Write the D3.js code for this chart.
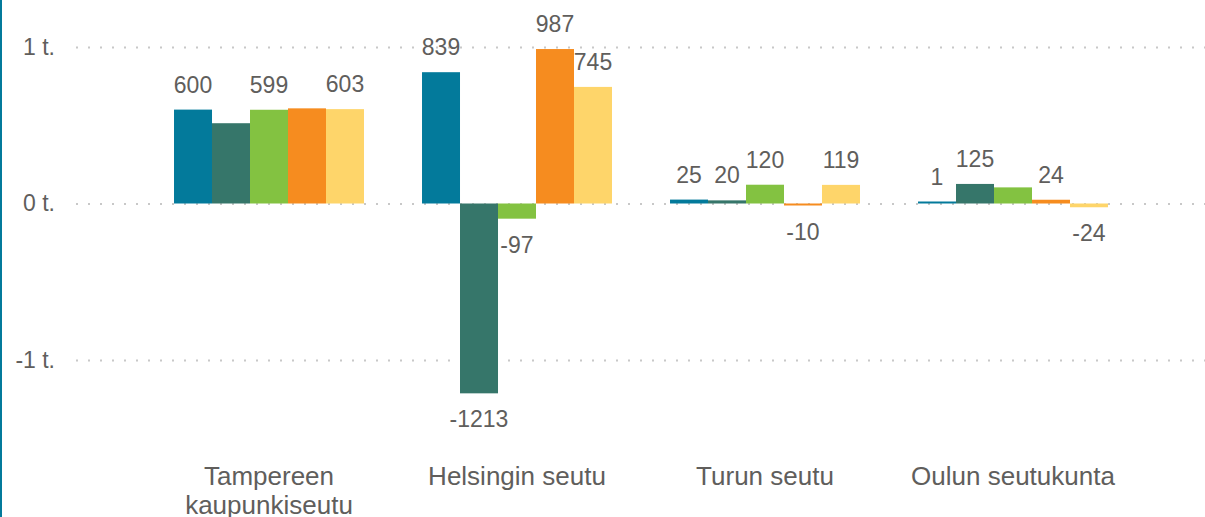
<!DOCTYPE html>
<html>
<head>
<meta charset="utf-8">
<script src="https://cdn.jsdelivr.net/npm/d3@7"></script>
<style>
  html, body { margin: 0; padding: 0; background: #fff; }
  body { width: 1205px; height: 517px; overflow: hidden; }
  svg { display: block; font-family: "Liberation Sans", Arial, sans-serif; }
</style>
</head>
<body>
<script>
const categories = [['Tampereen', 'kaupunkiseutu'], ['Helsingin seutu'], ['Turun seutu'], ['Oulun seutukunta']]
const seriesNames = ['s1', 's2', 's3', 's4', 's5']
const seriesColors = ['#037a9b', '#36766a', '#83c241', '#f68c1f', '#fed56a']

// values per category, one per series
const tampere = [600, 513, 599, 608, 603]
const helsinki = [839, -1213, -97, 987, 745]
const turku = [25, 20, 120, -10, 119]
const oulu = [1, 125, 103, 24, -24]
const values = [tampere, helsinki, turku, oulu]

// which data labels are drawn (others hidden to avoid overlap)
const showLabel = [
  [true, false, true, false, true],
  [true, true, true, true, true],
  [true, true, true, true, true],
  [true, true, false, true, true]
]

const yTicks = [-1000, 0, 1000]
const yTickLabels = ['-1 t.', '0 t.', '1 t.']

const w = 1205
const h = 517
const textColor = '#605e5c'

const svg = d3.select('body')
  .append('svg')
  .attr('width', w)
  .attr('height', h)

// left edge accent
svg.append('rect')
  .attr('x', 0).attr('y', 0)
  .attr('width', 2).attr('height', h)
  .attr('fill', '#037a9b')

const x0 = d3.scaleBand()
  .domain(d3.range(categories.length))
  .range([145, 1137])
  .paddingInner(0.234)
  .paddingOuter(0.117)

const x1 = d3.scaleBand()
  .domain(seriesNames)
  .range([0, x0.bandwidth()])

const y = d3.scaleLinear()
  .domain([-1000, 1000])
  .range([360, 47])

// gridlines
const yAxis = d3.axisLeft(y)
  .tickValues(yTicks)
  .tickSize(-(w - 76))
  .tickPadding(20)
  .tickFormat((d, i) => yTickLabels[i])

const gy = svg.append('g')
  .attr('transform', 'translate(76,0)')
  .call(yAxis)

gy.select('.domain').remove()
gy.selectAll('.tick line')
  .attr('stroke', '#c8c8c8')
  .attr('stroke-width', 2)
  .attr('stroke-dasharray', '2,10')
gy.selectAll('.tick text')
  .attr('fill', textColor)
  .attr('x', -21)
  .style('font-size', '23px')

// bars
const minH = 2
const groups = svg.selectAll('.group')
  .data(values)
  .enter()
  .append('g')
  .attr('class', 'group')
  .attr('transform', (d, i) => 'translate(' + x0(i) + ',0)')

groups.selectAll('rect')
  .data(d => d.map((v, j) => ({ v: v, s: seriesNames[j], j: j })))
  .enter()
  .append('rect')
  .attr('x', d => x1(d.s))
  .attr('width', x1.bandwidth())
  .attr('y', d => d.v >= 0 ? Math.min(y(d.v), y(0) - minH) : y(0))
  .attr('height', d => Math.max(Math.abs(y(d.v) - y(0)), minH))
  .attr('fill', d => seriesColors[d.j])

// data labels
groups.each(function (vals, i) {
  d3.select(this).selectAll('text')
    .data(vals.map((v, j) => ({ v: v, s: seriesNames[j], j: j })).filter(d => showLabel[i][d.j]))
    .enter()
    .append('text')
    .attr('x', d => x1(d.s) + x1.bandwidth() / 2)
    .attr('y', d => d.v >= 0 ? Math.min(y(d.v), y(0) - minH) - 17 : Math.max(y(d.v), y(0) + minH) + 34)
    .attr('text-anchor', 'middle')
    .attr('fill', textColor)
    .style('font-size', '23px')
    .text(d => d.v)
})

// category labels
const cat = svg.selectAll('.cat')
  .data(categories)
  .enter()
  .append('text')
  .attr('class', 'cat')
  .attr('x', (d, i) => x0(i) + x0.bandwidth() / 2)
  .attr('y', 485)
  .attr('text-anchor', 'middle')
  .attr('fill', textColor)
  .style('font-size', '26px')

cat.selectAll('tspan')
  .data(d => d)
  .enter()
  .append('tspan')
  .attr('x', function () { return d3.select(this.parentNode).attr('x') })
  .attr('dy', (d, i) => i === 0 ? 0 : 29)
  .text(d => d)
</script>
</body>
</html>
